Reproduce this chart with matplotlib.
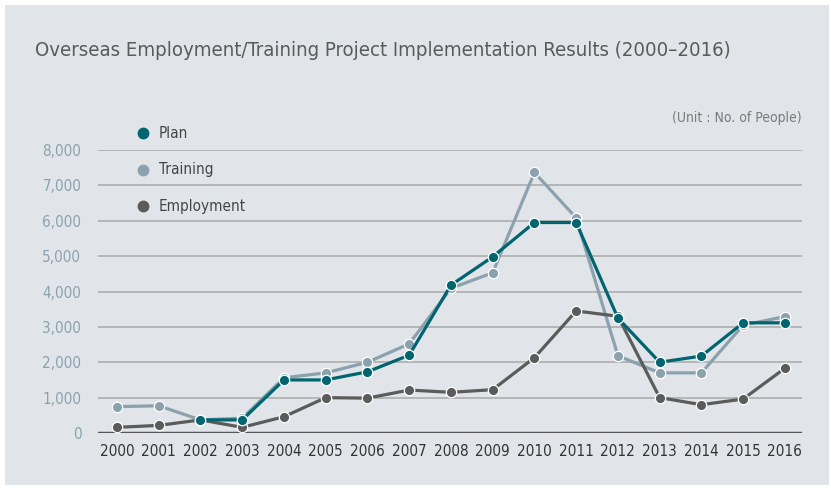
import matplotlib
matplotlib.use('Agg')
from matplotlib import pyplot as plt
from matplotlib.patches import Rectangle

years = list(range(2000, 2017))
plan_years = list(range(2002, 2017))
plan = [370, 370, 1500, 1500, 1730, 2200, 4180, 4980, 5950, 5950, 3250, 2000, 2175, 3115, 3115]
training = [745, 770, 370, 420, 1560, 1700, 2000, 2520, 4090, 4530, 7365, 6080, 2185, 1700, 1700, 3050, 3290]
employment = [160, 215, 370, 160, 460, 1000, 985, 1215, 1150, 1225, 2130, 3450, 3300, 1000, 800, 960, 1830]
yticks = [0, 1000, 2000, 3000, 4000, 5000, 6000, 7000, 8000]

C_PLAN = '#00656f'
C_TRAIN = '#8ba2ae'
C_EMP = '#5b5b5b'
BG = '#e1e5e9'

plt.rcParams['font.family'] = ['DejaVu Sans']
plt.rcParams['font.stretch'] = 'condensed'

W, H = 831, 488
fig = plt.figure(figsize=(W / 100, H / 100), dpi=100, facecolor='white')
fig.patches.append(Rectangle((5 / W, 3 / H), 824 / W, 480 / H, transform=fig.transFigure,
                             facecolor=BG, edgecolor='none', zorder=-5))

ax = fig.add_axes([98 / W, (H - 433) / H, 704 / W, 283 / H])
ax.set_facecolor('none')

for v in yticks[1:]:
    ax.axhline(v, color='#a8a8a8', lw=1.1, zorder=1)
ax.axhline(0, color='#555555', lw=2.5, zorder=1)

mk = dict(marker='o', markersize=7.5, markeredgecolor='white', markeredgewidth=0.9,
          lw=2.3, clip_on=False)
ax.plot(years, training, color=C_TRAIN, zorder=3, **mk)
ax.plot(years, employment, color=C_EMP, zorder=4, **mk)
ax.plot(plan_years, plan, color=C_PLAN, zorder=5, **mk)

ax.set_xlim(1999.545, 2016.41)
ax.set_ylim(0, 8000)
ax.set_xticks(years)
ax.set_xticklabels([str(y) for y in years], fontsize=11, color='#333333')
ax.set_yticks(yticks)
ax.set_yticklabels([f'{v:,}' for v in yticks], fontsize=11, color=C_TRAIN)
ax.tick_params(length=0, pad=8)
ax.tick_params(axis='y', pad=12)
for s in ax.spines.values():
    s.set_visible(False)

# legend
for i, (lab, c) in enumerate([('Plan', C_PLAN), ('Training', C_TRAIN), ('Employment', C_EMP)]):
    yy = 1 - (133 + i * 36.5) / H
    fig.lines.append(plt.Line2D([143 / W], [yy], transform=fig.transFigure, marker='o',
                                markersize=7.5, color=c, markeredgecolor=c))
    fig.text(159 / W, yy, lab, fontsize=11, color='#444444', va='center', ha='left')

fig.text(35 / W, 1 - 50 / H, 'Overseas Employment/Training Project Implementation Results (2000\u20132016)',
         fontsize=14.6, color='#5a5a5a', va='center', ha='left')
fig.text(802 / W, 1 - 118 / H, '(Unit : No. of People)', fontsize=10, color='#7a7a7a',
         va='center', ha='right')

fig.savefig('out.png', dpi=100, facecolor='white')
